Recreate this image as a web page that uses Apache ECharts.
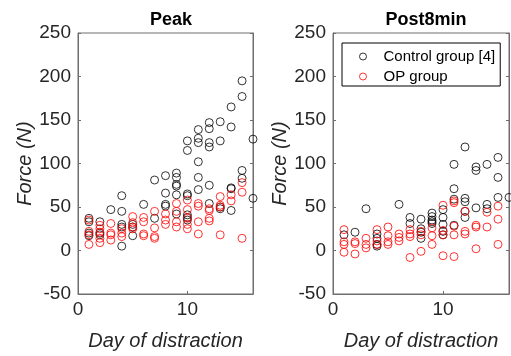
<!DOCTYPE html>
<html>
<head>
<meta charset="utf-8">
<script src="https://cdn.jsdelivr.net/npm/echarts@6/dist/echarts.min.js"></script>
<style>
  html, body { margin: 0; padding: 0; background: #fff; }
  #chart { width: 511px; height: 356px; }
</style>
</head>
<body>
<div id="chart"></div>
<script>
// values per day of distraction (index 0 = day 1)
const days = [1, 2, 3, 4, 5, 6, 7, 8, 9, 10, 11, 12, 13, 14, 15, 16];
const seriesNames = ['Control group [4]', 'OP group'];
const panelTitles = ['Peak', 'Post8min'];
const yTicks = [-50, 0, 50, 100, 150, 200, 250];
const xTicks = [0, 10];

const peakControl = [
  [37, 33, 20, 17], [33, 20, 18], [47], [63, 45, 30, 27, 5], [30, 27, 17], [53],
  [81, 37], [86, 66, 53, 51], [89, 84, 76, 74, 64, 42], [126, 115, 65, 63, 41, 38, 35],
  [139, 129, 124, 102, 84, 70], [147, 140, 124, 119, 75, 54], [148, 126, 50, 48],
  [165, 142, 72, 71, 46], [195, 177, 92, 83], [128, 60]
];
const peakOP = [
  [35, 22, 18, 7], [29, 25, 21, 14, 9], [31, 20, 18, 12], [25, 20, 16], [39, 32, 27, 25],
  [38, 33, 19, 17], [45, 26, 16, 14], [42, 35, 30], [54, 45, 33, 27], [58, 47, 37, 30, 25],
  [54, 51, 33, 19], [48, 46, 37, 34], [62, 52, 50, 18], [64, 57], [78, 67, 14], []
];
const postControl = [
  [18], [21], [48], [19, 14, 7, 5], [], [53], [38, 31], [36, 25, 21, 14],
  [43, 39, 35, 33, 31], [47, 38, 30, 22, 18], [99, 71, 59, 29], [119, 60, 56, 45, 38],
  [96, 92, 49], [99, 53, 48], [107, 84, 61], [61]
];
const postOP = [
  [24, 10, 7, -2], [10, 8, -4], [14, 7, 3], [24, 11, 7], [27, 17, 10, 7], [19, 15, 11],
  [24, 19, 16, -8], [22, 18, -1], [26, 17, 7], [52, 23, 18, -6], [57, 55, 28, 18, -7],
  [45, 22, 19], [29, 27, 2], [44, 27], [51, 36, 7], []
];

const toPoints = (perDay) =>
  perDay.flatMap((vals, i) => vals.map((v) => [days[i], v]));

const font = 'Liberation Sans, Arial, Helvetica, sans-serif';
const axisColor = '#6e6e6e';
const textColor = '#262626';

const grids = [
  { left: 78, top: 33, width: 175, height: 267, show: true, borderColor: axisColor, borderWidth: 1 },
  { left: 333, top: 33, width: 176, height: 267, show: true, borderColor: axisColor, borderWidth: 1 },
];

const xAxis = [0, 1].map((g) => ({
  type: 'value',
  gridIndex: g,
  min: xTicks[0],
  max: 16,
  interval: xTicks[1] - xTicks[0],
  name: 'Day of distraction',
  nameLocation: 'middle',
  nameGap: 37,
  nameTextStyle: { fontFamily: font, fontSize: 20, fontStyle: 'italic', color: textColor },
  axisLine: { onZero: false, lineStyle: { color: axisColor } },
  axisTick: { inside: true, length: 3, lineStyle: { color: axisColor } },
  axisLabel: { showMaxLabel: false, margin: 6, fontFamily: font, fontSize: 19, color: textColor },
  splitLine: { show: false },
}));

const yAxis = [];
[0, 1].forEach((g) => {
  const base = {
    type: 'value',
    gridIndex: g,
    min: yTicks[0],
    max: yTicks[yTicks.length - 1],
    interval: yTicks[1] - yTicks[0],
    splitLine: { show: false },
    axisLine: { show: true, onZero: false, lineStyle: { color: axisColor } },
    axisTick: { inside: true, length: 3, lineStyle: { color: axisColor } },
  };
  yAxis.push({
    ...base,
    name: 'Force (N)',
    nameLocation: 'middle',
    nameGap: 43,
    nameTextStyle: { fontFamily: font, fontSize: 20, fontStyle: 'italic', color: textColor },
    axisLabel: { margin: 7, fontFamily: font, fontSize: 19, color: textColor },
  });
  // mirrored ticks on the right edge (box on)
  yAxis.push({ ...base, position: 'right', axisLabel: { show: false } });
});

const mkSeries = (name, data, g, color) => ({
  name,
  type: 'scatter',
  xAxisIndex: g,
  yAxisIndex: g * 2,
  symbol: 'circle',
  symbolSize: 8,
  itemStyle: { color: 'rgba(0,0,0,0)', borderColor: color, borderWidth: 1 },
  emphasis: { disabled: true },
  data,
});

const option = {
  animation: false,
  title: panelTitles.map((t, i) => ({
    text: t,
    left: i === 0 ? 166 : 421,
    top: 6,
    textAlign: 'center',
    textStyle: { fontFamily: font, fontSize: 18, fontWeight: 'bold', color: '#000' },
  })),
  grid: grids,
  xAxis,
  yAxis,
  legend: {
    data: seriesNames,
    orient: 'vertical',
    left: 342,
    top: 43,
    padding: [6, 5, 2, 17],
    itemGap: 5,
    itemWidth: 7,
    itemHeight: 7,
    icon: 'circle',
    itemStyle: { borderWidth: 1 },
    backgroundColor: '#fff',
    borderColor: '#000',
    borderWidth: 1,
    textStyle: { fontFamily: font, fontSize: 15, color: '#000', padding: [0, 0, 0, 12] },
  },
  series: [
    mkSeries(seriesNames[0], toPoints(peakControl), 0, '#000'),
    mkSeries(seriesNames[1], toPoints(peakOP), 0, '#ff0000'),
    mkSeries(seriesNames[0], toPoints(postControl), 1, '#000'),
    mkSeries(seriesNames[1], toPoints(postOP), 1, '#ff0000'),
  ],
};

const chart = echarts.init(document.getElementById('chart'));
chart.setOption(option);
</script>
</body>
</html>
